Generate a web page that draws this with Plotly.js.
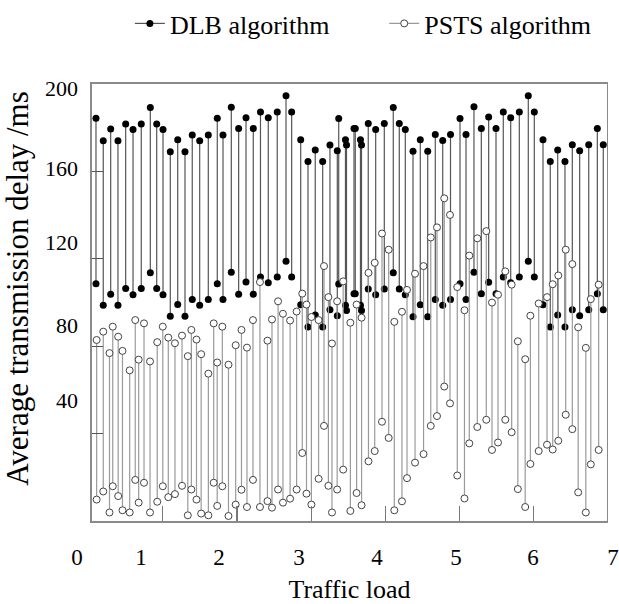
<!DOCTYPE html>
<html><head><meta charset="utf-8">
<script src="https://cdn.plot.ly/plotly-3.0.1.min.js"></script>
<style>html,body{margin:0;padding:0;background:#fff;}#chart{width:619px;height:604px;}</style>
</head><body><div id="chart"></div>
<script>
// ---- data ----
const seriesNames = ['DLB algorithm', 'PSTS algorithm'];

const dlbLoad = [0.101,0.199,0.299,0.397,0.501,0.600,0.711,0.833,0.919,1.004,
  1.102,1.202,1.300,1.398,1.498,1.614,1.735,1.812,1.924,2.023,
  2.122,2.220,2.317,2.422,2.543,2.661,2.737,2.859,2.957,3.055,
  3.155,3.253,3.352,3.371,3.462,3.476,3.577,3.594,3.664,3.678,
  3.769,3.869,3.985,4.106,4.187,4.268,4.372,4.470,4.570,4.672,
  4.772,4.877,5.005,5.086,5.193,5.292,5.391,5.490,5.588,5.688,
  5.804,5.925,6.006,6.123,6.221,6.321,6.419,6.518,6.617,6.739,
  6.855,6.935];
const dlbHigh = [184.2,173.9,179.3,173.9,181.6,179.1,181.6,189.1,181.6,179.1,
  168.9,174.4,168.9,176.6,173.9,176.6,184.2,176.6,189.3,179.5,
  184.5,179.5,187.1,184.5,187.1,194.5,187.1,174.4,164.4,169.7,
  164.4,172.0,169.4,184.1,174.4,172.0,179.5,179.5,174.4,172.0,
  181.8,179.1,181.8,189.1,181.8,179.1,169.1,174.4,169.1,176.8,
  174.1,176.8,184.1,176.8,189.5,179.5,184.8,179.5,187.1,184.5,
  187.1,194.5,187.1,174.4,164.4,169.7,164.4,172.1,169.4,172.1,
  179.5,172.1];
const dlbLow = [108.5,98.7,103.7,98.7,106.3,103.5,106.3,113.5,106.3,103.5,
  93.6,99.0,93.6,101.3,98.7,101.3,108.5,101.3,113.8,103.7,
  109.3,103.7,111.6,109.0,111.6,118.8,111.6,98.9,88.7,94.2,
  88.7,96.6,93.9,108.4,98.7,96.3,103.9,103.9,98.7,96.3,
  106.1,103.5,106.1,113.5,106.1,103.5,93.4,98.9,93.4,101.3,
  98.7,101.3,108.5,101.3,113.8,103.9,109.2,103.9,111.6,109.0,
  111.6,118.8,111.6,98.9,88.7,94.2,88.7,96.6,93.9,96.6,
  103.9,96.6];

const pstsLoad = [0.110,0.199,0.283,0.327,0.400,0.458,0.555,0.630,0.676,0.748,
  0.829,0.926,1.001,1.075,1.165,1.260,1.338,1.386,1.455,1.518,
  1.615,1.687,1.734,1.803,1.886,1.983,2.061,2.135,2.216,2.310,
  2.411,2.472,2.554,2.620,2.716,2.804,2.880,2.937,3.003,3.100,
  3.173,3.232,3.280,3.350,3.431,3.528,3.612,3.679,3.772,3.856,
  3.954,4.044,4.120,4.223,4.291,4.399,4.514,4.611,4.695,4.793,
  4.870,4.968,5.065,5.130,5.238,5.359,5.436,5.517,5.615,5.701,
  5.784,5.883,5.953,6.065,6.177,6.254,6.329,6.429,6.518,6.597,
  6.700,6.767,6.873];
const pstsHigh = [82.8,86.6,76.8,88.9,84.3,77.8,68.9,91.9,73.8,90.4,
  73.0,81.8,88.9,83.9,81.3,84.8,75.4,87.4,83.0,76.3,
  67.4,90.4,72.5,88.9,71.5,80.4,87.4,79.3,91.9,109.3,
  82.5,92.2,100.5,94.8,91.7,95.8,104.0,99.0,93.3,91.9,
  116.6,102.4,81.2,100.5,109.6,90.7,99.0,93.0,113.5,118.1,
  131.5,124.1,91.1,95.7,105.7,113.1,116.6,129.7,134.3,147.6,
  140.0,107.0,96.4,121.4,129.3,132.6,99.9,103.5,114.2,108.1,
  82.2,74.0,93.9,99.5,102.4,108.3,112.3,124.1,117.5,88.6,
  79.2,101.5,108.1];
const pstsLow = [9.8,13.5,3.9,15.9,11.4,4.9,3.9,18.8,8.4,17.5,
  3.9,8.8,15.9,10.9,12.3,16.1,2.6,14.4,9.8,3.4,
  2.6,17.5,6.9,15.9,2.3,7.5,14.3,6.4,18.8,6.4,
  9.1,6.1,14.4,8.4,10.2,14.4,31.1,12.5,7.5,19.3,
  43.5,16.1,3.9,14.4,23.5,4.6,12.8,7.2,27.3,32.0,
  45.4,38.0,4.9,9.0,19.6,26.7,30.6,43.5,48.0,61.5,
  53.8,20.8,10.3,35.5,43.0,46.3,32.5,35.9,46.3,40.6,
  14.6,6.4,26.1,32.0,34.9,32.7,36.7,48.6,42.0,13.1,
  3.9,25.9,32.5];

const xTickLabels = ['0','1','2','3','4','5','6','7'];
const yTickLabels = ['200','160','120','80','40'];
const xTitle = 'Traffic load';
const yTitle = 'Average transmission delay /ms';

// ---- build hi-low segments ----
function segments(xs, hi, lo) {
  const x = [], y = [];
  for (let i = 0; i < xs.length; i++) {
    x.push(xs[i], xs[i], null);
    y.push(hi[i], lo[i], null);
  }
  return {x, y};
}
const dSeg = segments(dlbLoad, dlbHigh, dlbLow);
const pSeg = segments(pstsLoad, pstsHigh, pstsLow);

const FONT = 'Liberation Serif, Times New Roman, serif';

const traces = [
  {
    type: 'scatter', mode: 'lines+markers', name: seriesNames[0],
    x: dSeg.x, y: dSeg.y, connectgaps: false,
    line: {color: '#555555', width: 1.2},
    marker: {symbol: 'circle', size: 7, color: '#000000'},
    xaxis: 'x', yaxis: 'y', cliponaxis: false, legend: 'legend'
  },
  {
    type: 'scatter', mode: 'lines+markers', name: seriesNames[1],
    x: pSeg.x, y: pSeg.y, connectgaps: false,
    line: {color: '#9a9a9a', width: 1.2},
    marker: {symbol: 'circle', size: 7, color: '#ffffff', line: {color: '#444444', width: 1}},
    xaxis: 'x', yaxis: 'y', cliponaxis: false, legend: 'legend2'
  },
  // label-only axes carrier (no marks)
  {
    type: 'scatter', mode: 'markers', x: [], y: [], xaxis: 'x2', yaxis: 'y2',
    showlegend: false, hoverinfo: 'skip'
  }
];

const legendCommon = {
  orientation: 'h', xanchor: 'left', y: 1.07, yanchor: 'middle',
  font: {family: FONT, size: 26, color: '#000'},
  bgcolor: 'rgba(0,0,0,0)', borderwidth: 0
};

// paper spans x 60..619, y 52..521 (px)
const layout = {
  width: 619, height: 604,
  margin: {l: 60, r: 0, t: 52, b: 83},
  paper_bgcolor: '#ffffff', plot_bgcolor: 'rgba(0,0,0,0)',
  font: {family: FONT, color: '#000000', size: 22},
  showlegend: true,
  legend: Object.assign({x: 0.125}, legendCommon),
  legend2: Object.assign({x: 0.58}, legendCommon),
  xaxis: {
    domain: [0.0572, 0.9785], range: [0.047, 6.985],
    showline: true, mirror: true, linecolor: '#8a8a8a', linewidth: 1.5,
    ticks: 'inside', tickvals: [1, 2, 3, 4, 5, 6], ticklen: 15, tickcolor: '#777777', tickwidth: 1.2,
    showticklabels: false, showgrid: false, zeroline: false,
    automargin: true,
    title: {text: xTitle, standoff: 59, font: {family: FONT, size: 26, color: '#000'}}
  },
  yaxis: {
    domain: [0, 0.9403], range: [0, 200],
    showline: true, mirror: true, linecolor: '#8a8a8a', linewidth: 1.5,
    ticks: 'inside', tickvals: [40, 80, 120, 160], ticklen: 11, tickcolor: '#555555', tickwidth: 1.2,
    showticklabels: false, showgrid: false, zeroline: false
  },
  xaxis2: {
    anchor: 'free', position: 0, domain: [0, 1], range: [60, 619],
    tickmode: 'array', tickvals: [77, 141, 219, 299, 377, 456, 533, 613], ticktext: xTickLabels,
    ticks: '', showline: false, showgrid: false, zeroline: false,
    ticklabelstandoff: 20, ticklabeloverflow: 'allow',
    tickfont: {family: FONT, size: 23, color: '#000'}
  },
  yaxis2: {
    anchor: 'free', position: 0.0572, domain: [0, 1], range: [521, 52],
    tickmode: 'array', tickvals: [85, 165, 240, 324, 399], ticktext: yTickLabels,
    ticks: '', showline: false, showgrid: false, zeroline: false,
    ticklabelstandoff: 14,
    tickfont: {family: FONT, size: 22, color: '#000'},
    title: {text: yTitle, font: {family: FONT, size: 31, color: '#000'}}
  }
};

Plotly.newPlot('chart', traces, layout, {displayModeBar: false, staticPlot: true});
</script>
</body></html>
